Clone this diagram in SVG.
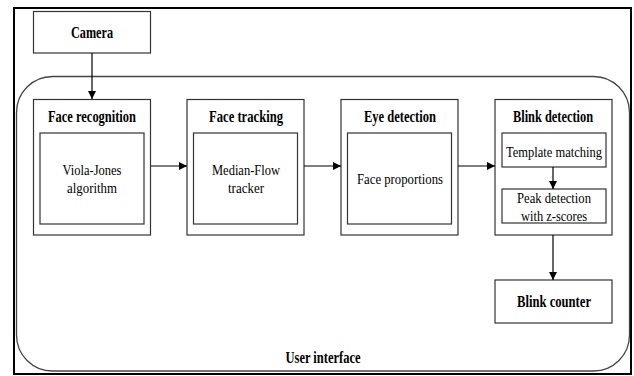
<svg xmlns="http://www.w3.org/2000/svg" width="634" height="376" viewBox="0 0 634 376">
<defs>
<marker id="ah" viewBox="0 0 10 10" refX="10" refY="5" markerWidth="8" markerHeight="8" markerUnits="userSpaceOnUse" orient="auto">
<path d="M0,0 L10,5 L0,10 z" fill="#000"/>
</marker>
</defs>
<style>
.box{fill:#fff;stroke:#333;stroke-width:1.2}
.t{font-family:"Liberation Serif","Times New Roman",serif;font-size:15px;text-anchor:middle;fill:#000}
.b{font-weight:bold;font-size:16px}
.c{stroke:#000;stroke-width:1.2;fill:none;marker-end:url(#ah)}
</style>
<rect x="0" y="0" width="634" height="376" fill="#fff"/>
<rect x="14" y="8" width="617" height="366" fill="none" stroke="#000" stroke-width="2"/>
<g id="ui">
<rect x="16.5" y="76.5" width="613" height="294.5" rx="36" ry="36" fill="none" stroke="#444" stroke-width="1.3"/>
<text class="t b" x="323" y="363" textLength="75" lengthAdjust="spacingAndGlyphs">User interface</text>
</g>
<g id="camera">
<rect class="box" x="33.5" y="11.5" width="117" height="41.5"/>
<text class="t b" x="92" y="38" textLength="42" lengthAdjust="spacingAndGlyphs">Camera</text>
</g>
<g id="face-recognition">
<rect class="box" x="33.5" y="99.5" width="117" height="135.5"/>
<text class="t b" x="92" y="122" textLength="88" lengthAdjust="spacingAndGlyphs">Face recognition</text>
<rect class="box" x="40" y="133" width="104" height="91"/>
<text class="t" x="92" y="175" textLength="59" lengthAdjust="spacingAndGlyphs">Viola-Jones</text>
<text class="t" x="92" y="193" textLength="50" lengthAdjust="spacingAndGlyphs">algorithm</text>
</g>
<g id="face-tracking">
<rect class="box" x="187" y="99.5" width="117" height="135.5"/>
<text class="t b" x="246" y="122" textLength="74" lengthAdjust="spacingAndGlyphs">Face tracking</text>
<rect class="box" x="193.5" y="133" width="104" height="91"/>
<text class="t" x="246" y="175" textLength="68" lengthAdjust="spacingAndGlyphs">Median-Flow</text>
<text class="t" x="246" y="193" textLength="36" lengthAdjust="spacingAndGlyphs">tracker</text>
</g>
<g id="eye-detection">
<rect class="box" x="341" y="99.5" width="117" height="135.5"/>
<text class="t b" x="400" y="122" textLength="72" lengthAdjust="spacingAndGlyphs">Eye detection</text>
<rect class="box" x="347.5" y="133" width="104" height="91"/>
<text class="t" x="400" y="184" textLength="86" lengthAdjust="spacingAndGlyphs">Face proportions</text>
</g>
<g id="blink-detection">
<rect class="box" x="495" y="99.5" width="117" height="135.5"/>
<text class="t b" x="553" y="122" textLength="80" lengthAdjust="spacingAndGlyphs">Blink detection</text>
</g>
<g id="template-matching">
<rect class="box" x="502" y="133" width="104" height="34"/>
<text class="t" x="554" y="157" textLength="96" lengthAdjust="spacingAndGlyphs">Template matching</text>
</g>
<g id="peak-detection">
<rect class="box" x="502" y="189" width="104" height="34"/>
<text class="t" x="554" y="203" textLength="74" lengthAdjust="spacingAndGlyphs">Peak detection</text>
<text class="t" x="554" y="221" textLength="66" lengthAdjust="spacingAndGlyphs">with z-scores</text>
</g>
<g id="blink-counter">
<rect class="box" x="495" y="280" width="117" height="43"/>
<text class="t b" x="554" y="307" textLength="74" lengthAdjust="spacingAndGlyphs">Blink counter</text>
</g>
<g id="connectors">
<line class="c" x1="92" y1="53" x2="92" y2="99"/>
<line class="c" x1="151" y1="166" x2="187" y2="166"/>
<line class="c" x1="304" y1="166" x2="341" y2="166"/>
<line class="c" x1="458" y1="166" x2="495" y2="166"/>
<line class="c" x1="553" y1="167" x2="553" y2="189"/>
<line class="c" x1="553" y1="235" x2="553" y2="280"/>
</g>
</svg>
